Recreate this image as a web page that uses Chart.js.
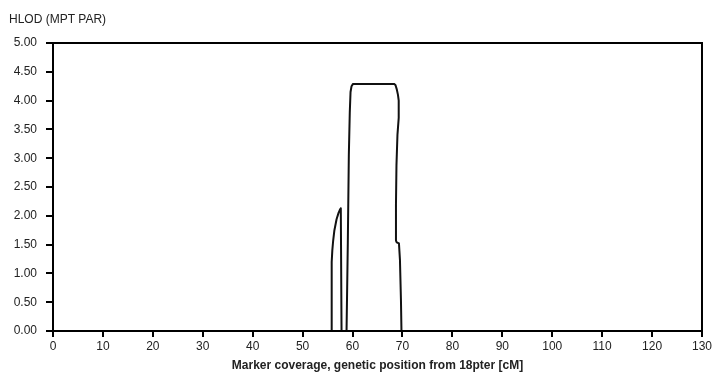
<!DOCTYPE html>
<html lang="en">
<head>
  <meta charset="UTF-8" />
  <title>HLOD (MPT PAR)</title>
  <script src="https://cdn.jsdelivr.net/npm/chart.js"></script>
  <style>
    body { margin: 0; background: #ffffff; }
    .wrap { position: relative; width: 714px; height: 373px; }
  </style>
</head>
<body>
  <div class="wrap">
    <canvas id="hlodChart"></canvas>
  </div>

  <script>
    // genetic position (cM) and HLOD values along the traced curve
    const positions = [55.8, 55.8, 55.85, 55.95, 56.1, 56.35, 56.8, 57.2, 57.55, 57.65, 57.8,
                       58.8, 59.05, 59.26, 59.45, 59.6, 59.8, 60.1, 68.3, 68.6, 68.85, 69.1, 69.25,
                       69.3, 69.2, 69.0, 68.8, 68.7, 68.7, 68.85, 69.3, 69.5, 69.7, 69.8];
    const hlod =      [0, 0.98, 1.2, 1.4, 1.55, 1.74, 1.94, 2.05, 2.12, 2.13, 0,
                       0, 1.5, 3.06, 3.8, 4.15, 4.25, 4.29, 4.29, 4.27, 4.2, 4.1, 4.0,
                       3.9, 3.7, 3.41, 2.88, 2.2, 1.57, 1.54, 1.52, 1.23, 0.53, 0];

    const xTickValues = [0, 10, 20, 30, 40, 50, 60, 70, 80, 90, 100, 110, 120, 130];
    const yTickValues = [0, 0.5, 1, 1.5, 2, 2.5, 3, 3.5, 4, 4.5, 5];

    const yTitle = 'HLOD (MPT PAR)';
    const xTitle = 'Marker coverage, genetic position from 18pter [cM]';

    const fontFamily = 'Arial, "Liberation Sans", Helvetica, sans-serif';
    const textColor = '#222222';

    // box around the plot area plus the title in the upper-left corner
    const frame = {
      id: 'frame',
      afterDraw(chart) {
        const { ctx, chartArea: a } = chart;
        ctx.save();
        ctx.strokeStyle = '#000000';
        ctx.lineWidth = 2;
        ctx.strokeRect(a.left, a.top, a.right - a.left, a.bottom - a.top);
        ctx.fillStyle = textColor;
        ctx.font = '12px ' + fontFamily;
        ctx.textBaseline = 'middle';
        ctx.textAlign = 'left';
        ctx.fillText(yTitle, 9, 20);
        ctx.restore();
      }
    };

    const ctx = document.getElementById('hlodChart').getContext('2d');

    new Chart(ctx, {
      type: 'scatter',
      data: {
        datasets: [{
          data: positions.map((x, i) => ({ x: x, y: hlod[i] })),
          showLine: true,
          borderColor: '#111111',
          borderWidth: 2,
          pointRadius: 0,
          tension: 0,
          borderJoinStyle: 'round',
          clip: false
        }]
      },
      options: {
        responsive: true,
        maintainAspectRatio: false,
        animation: false,
        layout: { padding: { top: 43, right: 12, left: 0, bottom: 0 } },
        plugins: {
          legend: { display: false },
          tooltip: { enabled: false }
        },
        scales: {
          x: {
            type: 'linear',
            min: 0,
            max: 130,
            afterBuildTicks: s => { s.ticks = xTickValues.map(v => ({ value: v })); },
            afterFit: s => { s.height = 42; },
            border: { color: '#000000', width: 2 },
            grid: { drawOnChartArea: false, color: '#000000', lineWidth: 2, tickLength: 6 },
            ticks: {
              color: textColor,
              font: { size: 12, family: fontFamily },
              padding: 2,
              maxRotation: 0
            },
            title: {
              display: true,
              text: xTitle,
              color: textColor,
              font: { size: 12, weight: 'bold', family: fontFamily },
              padding: { top: 3, bottom: 0 }
            }
          },
          y: {
            type: 'linear',
            min: 0,
            max: 5,
            afterBuildTicks: s => { s.ticks = yTickValues.map(v => ({ value: v })); },
            afterFit: s => { s.width = 53; },
            border: { color: '#000000', width: 2 },
            grid: { drawOnChartArea: false, color: '#000000', lineWidth: 2, tickLength: 7 },
            ticks: {
              color: textColor,
              font: { size: 12, family: fontFamily },
              padding: 9,
              callback: v => Number(v).toFixed(2)
            }
          }
        }
      },
      plugins: [frame]
    });
  </script>
</body>
</html>
